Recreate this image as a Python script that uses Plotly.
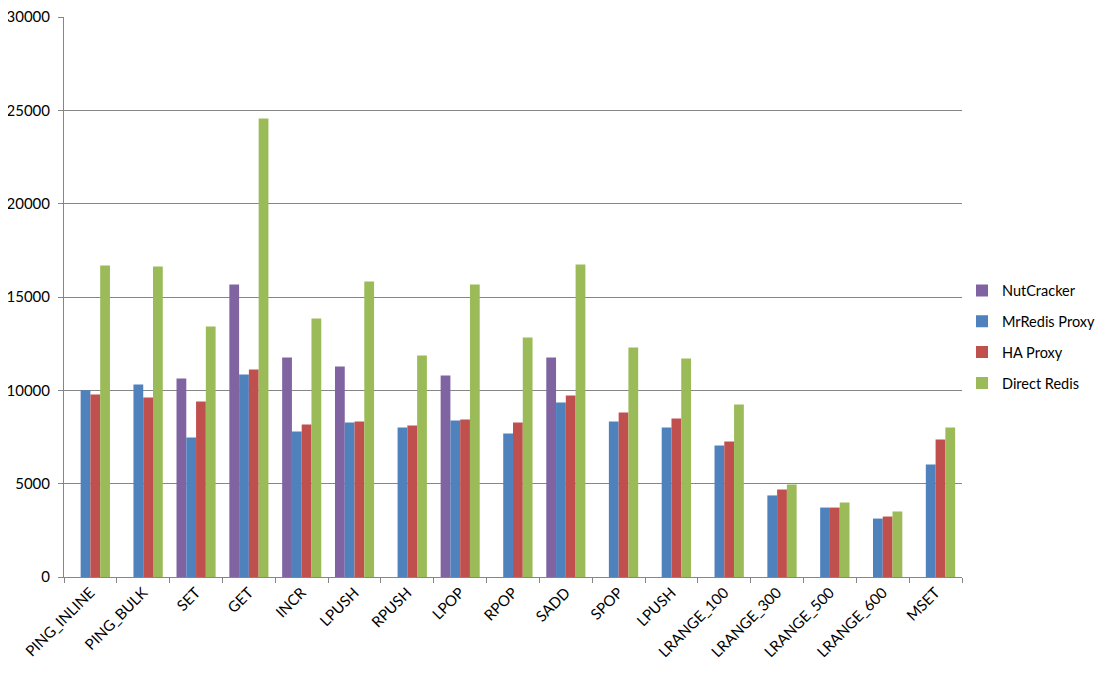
import plotly.graph_objects as go

categories = ["PING_INLINE", "PING_BULK", "SET", "GET", "INCR", "LPUSH", "RPUSH", "LPOP",
              "RPOP", "SADD", "SPOP", "LPUSH", "LRANGE_100", "LRANGE_300", "LRANGE_500",
              "LRANGE_600", "MSET"]

nutcracker = [None, None, 10630, 15670, 11760, 11280, None, 10800,
              None, 11760, None, None, None, None, None, None, None]
mrredis = [10000, 10310, 7470, 10850, 7800, 8280, 8010, 8380,
           7690, 9350, 8330, 8010, 7040, 4370, 3720, 3130, 6030]
haproxy = [9780, 9620, 9400, 11120, 8170, 8330, 8120, 8440,
           8280, 9720, 8810, 8490, 7260, 4690, 3720, 3240, 7370]
direct = [16690, 16630, 13420, 24560, 13850, 15830, 11870, 15670,
          12830, 16740, 12300, 11710, 9240, 4960, 3990, 3510, 8010]

series = [("NutCracker", nutcracker, "#8064A2"),
          ("MrRedis Proxy", mrredis, "#4F81BD"),
          ("HA Proxy", haproxy, "#C0504D"),
          ("Direct Redis", direct, "#9BBB59")]

x = list(range(len(categories)))
font_family = "Lato, 'Open Sans', sans-serif"

fig = go.Figure()
for name, vals, color in series:
    fig.add_trace(go.Bar(x=x, y=vals, name=name, marker=dict(color=color, line=dict(width=0)),
                         legendgroup=name))

grid = "#868686"
fig.update_layout(
    width=1095, height=665,
    margin=dict(l=56, r=141, t=9, b=96, autoexpand=False),
    plot_bgcolor="white", paper_bgcolor="white",
    barmode="group", bargap=0.26, bargroupgap=0,
    font=dict(family=font_family, size=14, color="black"),
    legend=dict(x=1.0, y=0.4286, xanchor="left", yanchor="middle",
                font=dict(size=14.5), tracegroupgap=9, itemwidth=30),
    showlegend=True,
)
fig.update_xaxes(
    range=[-0.5, len(categories) - 0.5],
    tickmode="array", tickvals=x, ticktext=categories, tickangle=-45,
    ticks="", showgrid=False, showline=True, linecolor=grid, linewidth=1,
    tickfont=dict(size=15),
    minor=dict(tickmode="linear", tick0=-0.5, dtick=1, ticks="outside", ticklen=5,
               tickcolor=grid, showgrid=False),
    zeroline=False,
)
fig.update_yaxes(
    range=[0, 30000], tickmode="linear", tick0=0, dtick=5000, tickformat="d",
    showgrid=True, gridcolor=grid, gridwidth=1,
    showline=True, linecolor=grid, linewidth=1, mirror=False,
    ticks="outside", ticklen=5, tickcolor=grid, ticklabelstandoff=5,
    ticklabeloverflow="allow",
    tickfont=dict(size=15), zeroline=False,
)

fig.write_html("out.html")
